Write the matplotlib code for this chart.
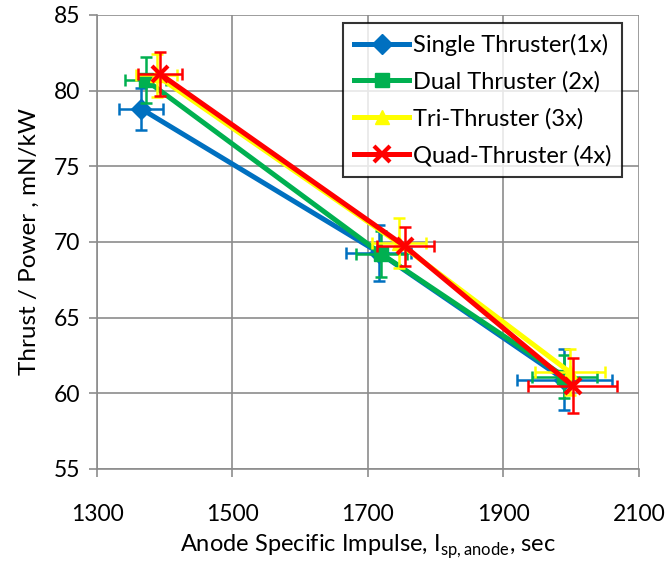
import matplotlib.pyplot as plt
from matplotlib.lines import Line2D

plt.rcParams['font.family'] = ['Lato', 'DejaVu Sans']

labels = ['Single Thruster(1x)', 'Dual Thruster (2x)', 'Tri-Thruster (3x)', 'Quad-Thruster (4x)']
colors = ['#0070C0', '#00B050', '#FFFF00', '#FF0000']
markers = ['D', 's', '^', 'x']

isp = [[1365, 1716, 1990],
       [1372, 1720, 1990],
       [1388, 1746, 1998],
       [1393, 1755, 2002]]
tp = [[78.8, 69.3, 60.9],
      [80.7, 69.2, 61.1],
      [81.0, 69.9, 61.4],
      [81.1, 69.7, 60.5]]
isp_err = [[32, 48, 70],
           [30, 38, 48],
           [30, 40, 52],
           [32, 42, 65]]
tp_err = [[1.4, 1.85, 2.0],
          [1.5, 1.5, 1.4],
          [1.4, 1.65, 1.5],
          [1.43, 1.3, 1.83]]

fig = plt.figure(figsize=(6.69, 5.74), dpi=100)
ax = fig.add_axes([0.145, 0.183, 0.81, 0.791])

handles = []
for i in range(4):
    ax.errorbar(isp[i], tp[i], xerr=isp_err[i], yerr=tp_err[i], fmt='none',
                ecolor=colors[i], elinewidth=1.8, capsize=4, capthick=1.8, zorder=3 + i)
    ms = 10 if markers[i] != 'x' else 11
    ax.plot(isp[i], tp[i], color=colors[i], lw=3.6, marker=markers[i], ms=ms,
            mew=3 if markers[i] == 'x' else 1, zorder=3 + i)
    handles.append(Line2D([], [], color=colors[i], lw=3.6, marker=markers[i],
                          ms=ms, mew=3 if markers[i] == 'x' else 1))

ax.set_xlim(1300, 2100)
ax.set_ylim(55, 85)
ax.set_xticks([1300, 1500, 1700, 1900, 2100])
ax.set_yticks(range(55, 86, 5))
ax.grid(True, color='#8c8c8c', lw=1.2)
ax.set_axisbelow(True)
for s in ['top', 'right']:
    ax.spines[s].set_visible(False)
for s in ['left', 'bottom']:
    ax.spines[s].set_color('#8c8c8c')
    ax.spines[s].set_linewidth(1.2)
ax.tick_params(colors='#8c8c8c', labelcolor='black', labelsize=16.5, length=6, width=1.2)
ax.tick_params(axis='x', pad=19)
ax.tick_params(axis='y', pad=6)

ax.set_xlabel('Anode Specific Impulse, I$_{\\mathregular{sp,anode}}$, sec', fontsize=17, labelpad=6)
ax.set_ylabel('Thrust / Power , mN/kW', fontsize=17.5, labelpad=10)

leg = ax.legend(handles, labels, loc='upper right', bbox_to_anchor=(0.969, 0.982),
                fontsize=17, frameon=True, fancybox=False, handlelength=2.35,
                handletextpad=0.15, borderpad=0.45, labelspacing=0.65, borderaxespad=0)
leg.get_frame().set_edgecolor('black')
leg.get_frame().set_linewidth(1.5)
leg.set_zorder(10)

fig.savefig('out.png', dpi=100)
